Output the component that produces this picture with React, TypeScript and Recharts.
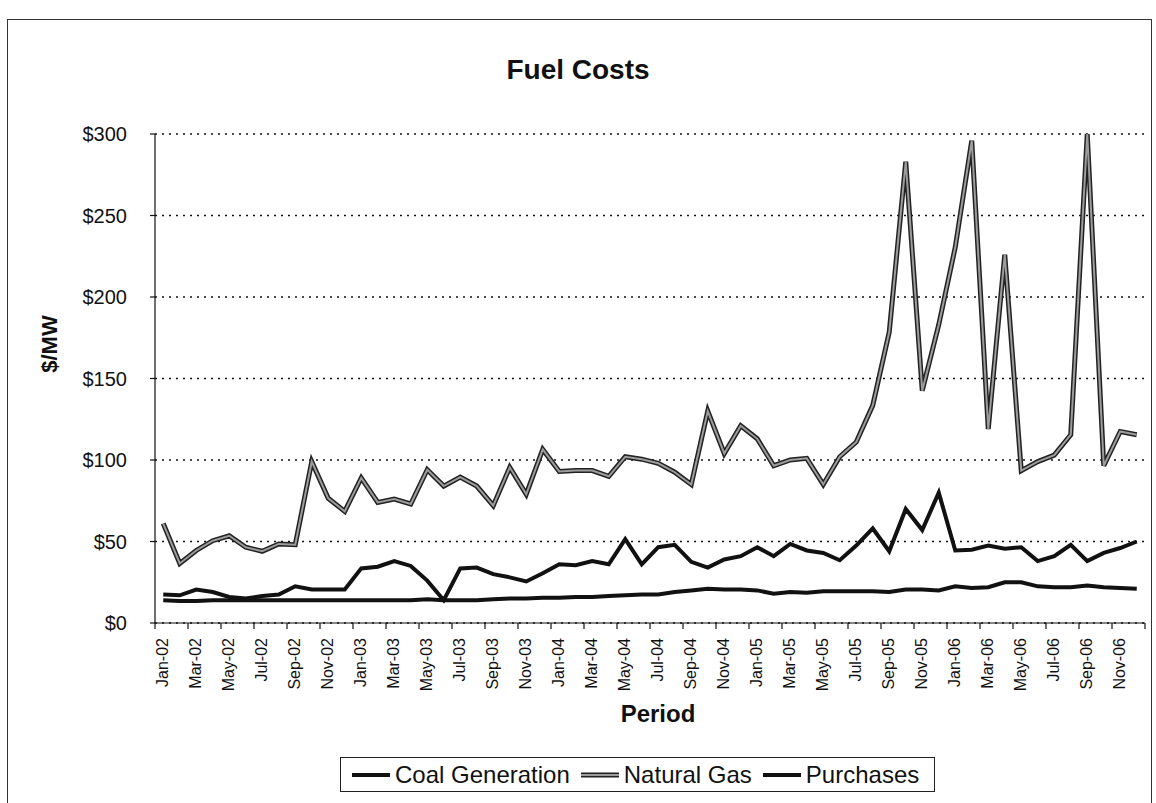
import { LineChart, Line, XAxis, YAxis, CartesianGrid } from 'recharts';

const months = [
  'Jan-02', 'Feb-02', 'Mar-02', 'Apr-02', 'May-02', 'Jun-02', 'Jul-02', 'Aug-02', 'Sep-02', 'Oct-02', 'Nov-02', 'Dec-02',
  'Jan-03', 'Feb-03', 'Mar-03', 'Apr-03', 'May-03', 'Jun-03', 'Jul-03', 'Aug-03', 'Sep-03', 'Oct-03', 'Nov-03', 'Dec-03',
  'Jan-04', 'Feb-04', 'Mar-04', 'Apr-04', 'May-04', 'Jun-04', 'Jul-04', 'Aug-04', 'Sep-04', 'Oct-04', 'Nov-04', 'Dec-04',
  'Jan-05', 'Feb-05', 'Mar-05', 'Apr-05', 'May-05', 'Jun-05', 'Jul-05', 'Aug-05', 'Sep-05', 'Oct-05', 'Nov-05', 'Dec-05',
  'Jan-06', 'Feb-06', 'Mar-06', 'Apr-06', 'May-06', 'Jun-06', 'Jul-06', 'Aug-06', 'Sep-06', 'Oct-06', 'Nov-06', 'Dec-06',
];

const coalGeneration = [
  14, 13.5, 13.5, 14, 14, 14, 14, 14, 14, 14, 14, 14,
  14, 14, 14, 14, 14.5, 14, 14, 14, 14.5, 15, 15, 15.5,
  15.5, 16, 16, 16.5, 17, 17.5, 17.5, 19, 20, 21, 20.5, 20.5,
  20, 18, 19, 18.5, 19.5, 19.5, 19.5, 19.5, 19, 20.5, 20.5, 20,
  22.5, 21.5, 22, 25, 25, 22.5, 22, 22, 23, 22, 21.5, 21,
];

const naturalGas = [
  61, 36.5, 44.5, 50.5, 53.5, 46.5, 44, 48.5, 48, 99, 76.5, 68.5,
  89, 74, 76, 73, 94, 84, 89.5, 84, 72, 95.5, 79, 106.5,
  93, 93.5, 93.5, 90, 102, 100.5, 98, 92.5, 85, 130, 104, 121,
  113, 96.5, 100, 101, 85, 102, 111, 133.5, 178.5, 283, 142.5, 183,
  230.5, 296, 119, 226, 93.5, 99, 103, 115.5, 300, 96.5, 117.5, 115.5,
];

const purchases = [
  17.5, 17, 20.5, 19, 16, 15, 16.5, 17.5, 22.5, 20.5, 20.5, 20.5,
  33.5, 34.5, 38, 35, 26, 14, 33.5, 34, 30, 28, 25.5, 30.5,
  36, 35.5, 38, 36, 51.5, 36, 46.5, 48, 37.5, 34, 39, 41,
  46.5, 41, 48.5, 44.5, 43, 38.5, 47.5, 58, 44, 70, 57, 80,
  44.5, 45, 47.5, 45.5, 46.5, 38, 41, 48, 38, 43, 46, 50,
];

const yTicks = [0, 50, 100, 150, 200, 250, 300];

const data = months.map((m, i) => ({
  month: m,
  coal: coalGeneration[i],
  gas: naturalGas[i],
  purchases: purchases[i],
}));

const font = '"Liberation Sans", Arial, sans-serif';
const plotLeft = 155;
const plotRight = 1145;
const band = (plotRight - plotLeft) / months.length;

function MonthTick(props: any) {
  const { x, y, payload } = props;
  const tx = x - band / 2;
  return (
    <g>
      <line x1={tx} y1={y} x2={tx} y2={y + 6} stroke="#111" strokeWidth={1.2} />
      {payload.index === months.length - 2 && (
        <line x1={x + band * 1.5} y1={y} x2={x + band * 1.5} y2={y + 6} stroke="#111" strokeWidth={1.2} />
      )}
      <text
        x={x + 5}
        y={y + 15}
        transform={`rotate(-90, ${x + 5}, ${y + 15})`}
        textAnchor="end"
        fontSize={16}
        fontFamily={font}
        fill="#111"
      >
        {payload.value}
      </text>
    </g>
  );
}

function LegendItem({ label, gray }: { label: string; gray?: boolean }) {
  return (
    <div style={{ display: 'flex', alignItems: 'center', marginRight: 10 }}>
      <svg width={40} height={10} style={{ marginRight: 4 }}>
        {gray ? (
          <>
            <line x1={1} y1={5} x2={39} y2={5} stroke="#222" strokeWidth={5} />
            <line x1={1} y1={5} x2={39} y2={5} stroke="#9c9c9c" strokeWidth={2} />
          </>
        ) : (
          <line x1={1} y1={5} x2={39} y2={5} stroke="#111" strokeWidth={4} />
        )}
      </svg>
      <span>{label}</span>
    </div>
  );
}

export default function App() {
  return (
    <div style={{ position: 'absolute', left: 0, top: 0, width: 1156, height: 803, background: '#fff', fontFamily: font, overflow: 'hidden' }}>
      <div style={{ position: 'absolute', left: 7, top: 19, width: 1143, height: 790, border: '1.5px solid #333' }} />
      <div style={{ position: 'absolute', left: 0, width: 1156, top: 54, textAlign: 'center', fontSize: 28, fontWeight: 'bold', color: '#111' }}>
        Fuel Costs
      </div>
      <div
        style={{
          position: 'absolute', left: 50, top: 344, transform: 'translate(-50%, -50%) rotate(-90deg)',
          fontSize: 22, fontWeight: 'bold', color: '#111', whiteSpace: 'nowrap',
        }}
      >
        $/MW
      </div>
      <div style={{ position: 'absolute', left: 658, top: 714, transform: 'translate(-50%, -50%)', fontSize: 24, fontWeight: 'bold', color: '#111' }}>
        Period
      </div>
      <div style={{ position: 'absolute', left: 0, top: 0 }}>
        <LineChart width={1156} height={803} data={data} margin={{ top: 134, right: 1156 - plotRight, left: plotLeft - 70, bottom: 110 }}>
          <CartesianGrid vertical={false} stroke="#111" strokeDasharray="2 5" strokeWidth={1.5} />
          <XAxis
            dataKey="month"
            interval={1}
            height={70}
            tickSize={0}
            tickMargin={0}
            padding={{ left: band / 2, right: band / 2 }}
            tick={<MonthTick />}
            stroke="#111"
            strokeWidth={1.2}
          />
          <YAxis
            domain={[0, 300]}
            ticks={yTicks}
            width={70}
            tickSize={5}
            tickMargin={23}
            tickFormatter={(v: number) => `$${v}`}
            tick={{ fontSize: 20, fontFamily: font, fill: '#111' }}
            stroke="#111"
            strokeWidth={1.2}
          />
          <Line dataKey="coal" stroke="#111" strokeWidth={4} dot={false} isAnimationActive={false} />
          <Line dataKey="gas" stroke="#222" strokeWidth={5} dot={false} isAnimationActive={false} />
          <Line dataKey="gas" stroke="#9c9c9c" strokeWidth={2} dot={false} isAnimationActive={false} />
          <Line dataKey="purchases" stroke="#111" strokeWidth={4} dot={false} isAnimationActive={false} />
        </LineChart>
      </div>
      <div
        style={{
          position: 'absolute', left: 340, top: 757, width: 595, height: 35, border: '1.5px solid #222',
          display: 'flex', alignItems: 'center', paddingLeft: 10, boxSizing: 'border-box', fontSize: 24, color: '#111',
        }}
      >
        <LegendItem label="Coal Generation" />
        <LegendItem label="Natural Gas" gray />
        <LegendItem label="Purchases" />
      </div>
    </div>
  );
}
